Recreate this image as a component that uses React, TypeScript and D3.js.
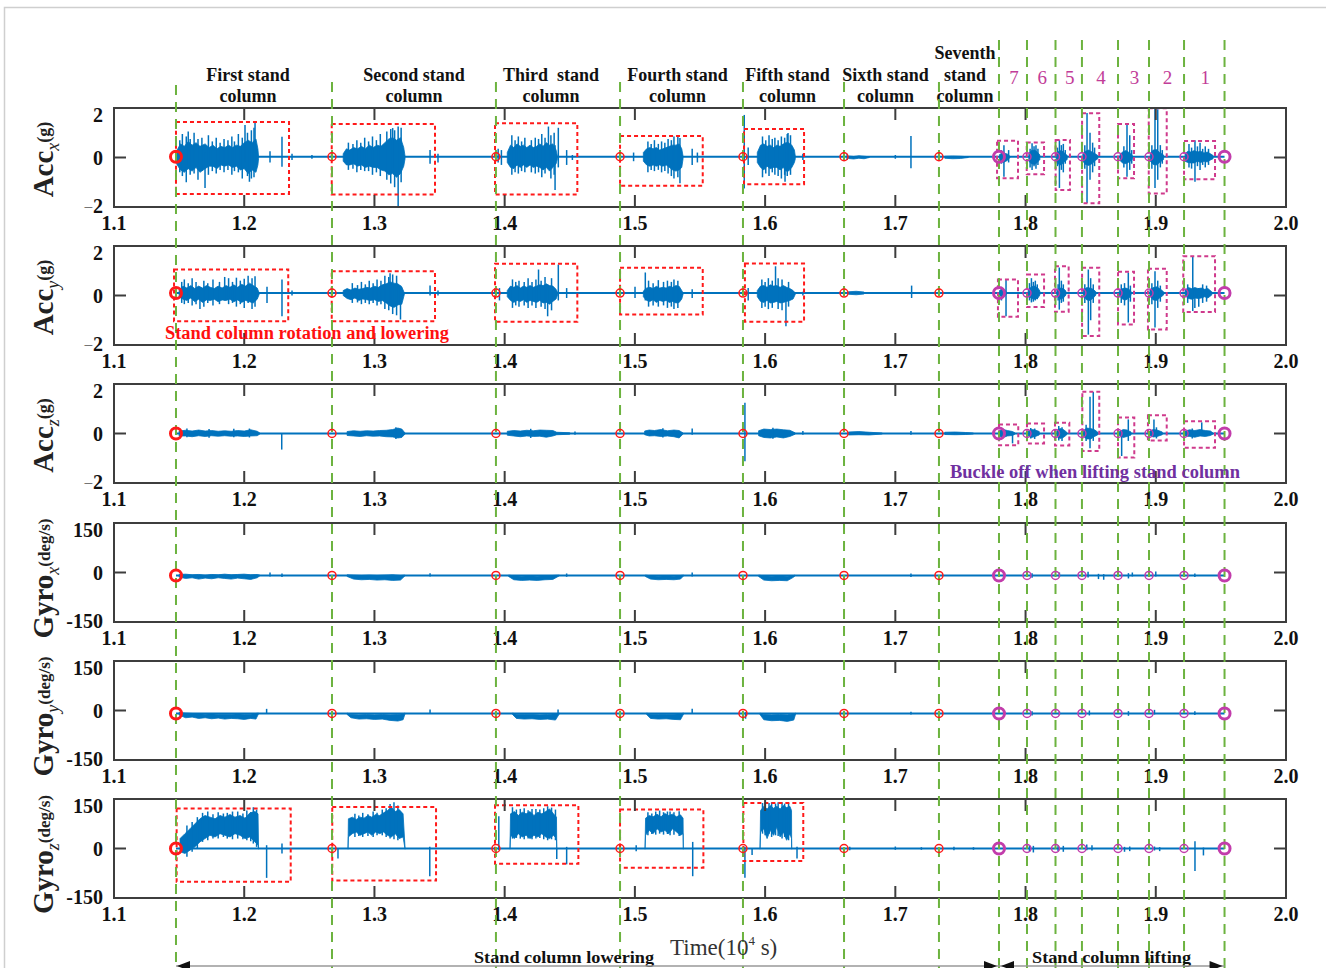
import React from "react";
import * as d3 from "d3";

// [time (1e4 s), high, low]
type Row = [number, number, number];
// [t0, t1, top, bottom]
type Box = [number, number, number, number];

const xTicks = [1.1, 1.2, 1.3, 1.4, 1.5, 1.6, 1.7, 1.8, 1.9, 2.0];
const accTicks = [-2, 0, 2];
const gyroTicks = [-150, 0, 150];

const lowerEvents = [1.1476, 1.2674, 1.3933, 1.4886, 1.583, 1.6606, 1.7335];
const liftEvents = [1.7796, 1.8011, 1.823, 1.8433, 1.871, 1.8948, 1.9217, 1.9528];

const standNames = [
  ["First stand", "column"],
  ["Second stand", "column"],
  ["Third  stand", "column"],
  ["Fourth stand", "column"],
  ["Fifth stand", "column"],
  ["Sixth stand", "column"],
  ["Seventh", "stand", "column"],
];
const liftNames = ["7", "6", "5", "4", "3", "2", "1"];

const baseLevels = [0.03, 0.1, 0, -9, -9, 0];

// ---------- Acc x ----------
const accXBursts: Row[][] = [
  [[1.148, 0.25, -0.25], [1.151, 0.55, -0.5], [1.154, 0.45, -0.6], [1.157, 0.65, -0.45], [1.16, 0.5, -0.55], [1.163, 0.6, -0.4], [1.166, 0.45, -0.6], [1.17, 0.55, -0.45], [1.173, 0.4, -0.35], [1.176, 0.5, -0.35], [1.179, 0.35, -0.45], [1.182, 0.45, -0.3], [1.185, 0.4, -0.35], [1.188, 0.5, -0.3], [1.191, 0.4, -0.4], [1.194, 0.5, -0.35], [1.197, 0.45, -0.5], [1.2, 0.6, -0.45], [1.203, 0.7, -0.65], [1.206, 0.6, -0.5], [1.209, 0.75, -0.6], [1.2105, 0.35, -0.3], [1.211, 0.05, -0.05]],
  [[1.276, 0.15, -0.15], [1.2785, 0.35, -0.3], [1.281, 0.3, -0.3], [1.284, 0.4, -0.25], [1.287, 0.35, -0.35], [1.29, 0.45, -0.3], [1.293, 0.35, -0.4], [1.296, 0.5, -0.35], [1.299, 0.4, -0.4], [1.302, 0.5, -0.4], [1.305, 0.45, -0.5], [1.308, 0.6, -0.55], [1.311, 0.75, -0.7], [1.314, 0.8, -0.65], [1.317, 0.7, -0.8], [1.32, 0.8, -0.65], [1.3225, 0.4, -0.35], [1.3235, 0.05, -0.05]],
  [[1.402, 0.2, -0.2], [1.4045, 0.5, -0.4], [1.407, 0.4, -0.45], [1.4095, 0.55, -0.3], [1.412, 0.45, -0.4], [1.4145, 0.5, -0.3], [1.417, 0.4, -0.4], [1.4195, 0.5, -0.3], [1.422, 0.4, -0.4], [1.4245, 0.45, -0.35], [1.427, 0.55, -0.4], [1.4295, 0.45, -0.5], [1.432, 0.6, -0.4], [1.4345, 0.5, -0.55], [1.437, 0.55, -0.4], [1.4395, 0.3, -0.25], [1.4405, 0.05, -0.05]],
  [[1.5065, 0.2, -0.15], [1.509, 0.35, -0.3], [1.5115, 0.4, -0.35], [1.514, 0.35, -0.3], [1.5165, 0.4, -0.35], [1.519, 0.3, -0.3], [1.5215, 0.35, -0.35], [1.524, 0.4, -0.3], [1.5265, 0.45, -0.4], [1.529, 0.5, -0.5], [1.5315, 0.5, -0.55], [1.534, 0.55, -0.5], [1.536, 0.35, -0.4], [1.537, 0.05, -0.05]],
  [[1.594, 0.2, -0.2], [1.5965, 0.5, -0.4], [1.599, 0.55, -0.5], [1.6015, 0.45, -0.35], [1.604, 0.5, -0.45], [1.6065, 0.4, -0.4], [1.609, 0.5, -0.4], [1.6115, 0.45, -0.5], [1.614, 0.55, -0.4], [1.616, 0.6, -0.55], [1.618, 0.6, -0.55], [1.6205, 0.5, -0.4], [1.6225, 0.3, -0.2], [1.6232, 0.05, -0.05]],
  [[1.664, 0.06, -0.04], [1.668, 0.04, -0.06], [1.672, 0.07, -0.03], [1.676, 0.05, -0.05], [1.68, 0.03, 0]],
  [[1.738, 0.05, -0.03], [1.744, 0.06, -0.05], [1.75, 0.05, -0.04], [1.756, 0.03, 0]],
  [[1.78, 0.12, -0.12], [1.783, 0.18, -0.2], [1.786, 0.14, -0.12], [1.788, 0.05, 0]],
  [[1.8025, 0.15, -0.15], [1.8045, 0.28, -0.25], [1.807, 0.3, -0.28], [1.809, 0.22, -0.2], [1.811, 0.1, -0.08]],
  [[1.8235, 0.15, -0.15], [1.8255, 0.25, -0.28], [1.8275, 0.28, -0.3], [1.8295, 0.2, -0.18], [1.832, 0.08, -0.08]],
  [[1.844, 0.15, -0.15], [1.846, 0.25, -0.28], [1.8485, 0.3, -0.32], [1.851, 0.22, -0.25], [1.8535, 0.15, -0.12], [1.8555, 0.08, -0.05]],
  [[1.8725, 0.12, -0.12], [1.8745, 0.22, -0.22], [1.877, 0.28, -0.25], [1.8795, 0.2, -0.18], [1.882, 0.08, -0.08]],
  [[1.8958, 0.15, -0.15], [1.898, 0.3, -0.28], [1.9005, 0.32, -0.3], [1.903, 0.2, -0.2], [1.906, 0.1, -0.08]],
  [[1.9225, 0.15, -0.15], [1.9245, 0.25, -0.2], [1.927, 0.22, -0.22], [1.9295, 0.28, -0.22], [1.932, 0.22, -0.15], [1.9345, 0.25, -0.2], [1.937, 0.18, -0.15], [1.9395, 0.22, -0.18], [1.942, 0.15, -0.1], [1.944, 0.08, -0.05]],
];
const accXSpikes: Row[] = [
  [1.157, 1.05, -0.3], [1.1699, 0.2, -1.23], [1.2006, 1.31, -0.2], [1.204, 0.3, -0.98], [1.2083, 1.39, -0.3], [1.2198, 0.25, -0.2], [1.229, 0.84, -0.37], [1.2367, 0.15, -0.1], [1.252, 0.1, -0.05],
  [1.1505, 0.7, -0.6], [1.1525, 0.95, -0.75], [1.1555, 0.85, -1.0], [1.1585, 0.75, -0.7], [1.1615, 1.0, -0.65], [1.1645, 0.75, -0.9], [1.1675, 0.8, -0.55], [1.1725, 0.9, -0.7], [1.1755, 0.65, -0.55], [1.1785, 0.8, -0.65], [1.1815, 0.6, -0.5], [1.1845, 0.75, -0.6], [1.1875, 0.7, -0.5], [1.1905, 0.85, -0.7], [1.1925, 0.65, -0.55], [1.1955, 0.95, -0.6], [1.1985, 0.8, -0.85], [1.2025, 1.0, -0.75], [1.2055, 1.1, -0.85], [1.2075, 1.2, -0.8],
  [1.314, 1.19, -0.4], [1.3182, 1.25, -2.0], [1.3427, 0.3, -0.25], [1.3488, 0.15, -0.2],
  [1.28, 0.6, -0.5], [1.2835, 0.55, -0.45], [1.2865, 0.7, -0.6], [1.2895, 0.6, -0.5], [1.2925, 0.8, -0.55], [1.2955, 0.65, -0.55], [1.2985, 0.85, -0.7], [1.3015, 0.7, -0.6], [1.3045, 0.95, -0.75], [1.3095, 1.05, -0.9], [1.3125, 1.15, -1.05], [1.3155, 1.1, -1.2], [1.3205, 1.2, -1.0],
  [1.395, 0.35, -0.2], [1.3975, 0.3, -0.3], [1.4336, 1.25, -0.3], [1.4387, 0.5, -1.31], [1.4412, 1.2, -0.4], [1.4476, 0.3, -0.3], [1.452, 0.1, -0.1],
  [1.4055, 0.9, -0.7], [1.408, 0.7, -0.6], [1.4105, 0.85, -0.65], [1.413, 0.65, -0.55], [1.4155, 0.8, -0.6], [1.4205, 0.7, -0.6], [1.4235, 0.8, -0.65], [1.426, 0.75, -0.6], [1.4285, 0.95, -0.8], [1.431, 0.8, -0.65], [1.4355, 0.9, -0.85], [1.438, 1.0, -0.7],
  [1.499, 0.2, -0.15], [1.5346, 0.79, -1.04], [1.544, 0.35, -0.3], [1.548, 0.2, -0.2],
  [1.51, 0.65, -0.6], [1.5125, 0.55, -0.5], [1.515, 0.7, -0.55], [1.518, 0.55, -0.5], [1.5205, 0.65, -0.6], [1.523, 0.6, -0.55], [1.5255, 0.75, -0.65], [1.528, 0.7, -0.75], [1.53, 0.85, -0.85], [1.533, 0.9, -0.8],
  [1.584, 1.72, -1.25], [1.587, 0.4, -0.3], [1.6176, 0.99, -0.3], [1.6153, 0.2, -0.98], [1.629, 0.15, -0.1],
  [1.598, 0.85, -0.8], [1.6005, 0.7, -0.65], [1.603, 0.9, -0.75], [1.6055, 0.75, -0.6], [1.6075, 0.8, -0.7], [1.61, 0.7, -0.75], [1.6125, 0.85, -0.85], [1.615, 0.8, -0.7], [1.617, 0.95, -0.75], [1.6195, 0.9, -0.7],
  [1.663, 0.15, -0.1], [1.7, 0.1, -0.05], [1.712, 0.87, -0.43],
  [1.7834, 0.5, -0.78], [1.7815, 0.3, -0.25], [1.787, 0.3, -0.2],
  [1.8035, 0.35, -0.4], [1.805, 0.58, -0.51], [1.8065, 0.45, -0.35], [1.808, 0.5, -0.45], [1.8095, 0.35, -0.3],
  [1.8245, 0.4, -0.35], [1.826, 0.7, -1.23], [1.8275, 0.5, -0.5], [1.829, 0.55, -0.6], [1.8305, 0.3, -0.25],
  [1.8455, 0.5, -0.45], [1.8472, 1.8, -1.84], [1.8495, 1.0, -0.9], [1.8515, 0.6, -0.6], [1.853, 0.4, -0.35],
  [1.8755, 0.45, -0.4], [1.8779, 1.31, -0.78], [1.88, 0.9, -0.5], [1.8815, 0.3, -0.25],
  [1.897, 0.5, -0.45], [1.8994, 2.0, -1.23], [1.9015, 1.95, -0.9], [1.9035, 0.5, -0.4], [1.905, 0.3, -0.25],
  [1.9255, 0.55, -0.4], [1.9275, 0.4, -0.45], [1.9301, 0.7, -0.98], [1.932, 0.45, -0.35], [1.934, 0.6, -0.5], [1.936, 0.35, -0.3], [1.938, 0.45, -0.4], [1.9405, 0.35, -0.3],
];
const accXRed: Box[] = [[1.1476, 1.2344, 1.43, -1.47], [1.2672, 1.3465, 1.35, -1.49], [1.3926, 1.4558, 1.38, -1.49], [1.4886, 1.5521, 0.87, -1.14], [1.5838, 1.6299, 1.15, -1.08]];
const accXPink: Box[] = [[1.7781, 1.7942, 0.68, -0.84], [1.8009, 1.8142, 0.61, -0.68], [1.8231, 1.8341, 0.71, -1.31], [1.8434, 1.8566, 1.79, -1.85], [1.871, 1.8833, 1.35, -0.84], [1.8946, 1.9084, 1.99, -1.45], [1.9217, 1.9455, 0.67, -0.88]];

// ---------- Acc y ----------
const accYBursts: Row[][] = [
  [[1.15, 0.2, -0.05], [1.153, 0.38, -0.15], [1.156, 0.3, -0.2], [1.159, 0.4, -0.1], [1.162, 0.28, -0.25], [1.165, 0.38, -0.15], [1.168, 0.3, -0.28], [1.171, 0.4, -0.18], [1.174, 0.33, -0.2], [1.177, 0.28, -0.15], [1.18, 0.38, -0.25], [1.183, 0.3, -0.18], [1.186, 0.4, -0.2], [1.189, 0.33, -0.15], [1.192, 0.43, -0.25], [1.195, 0.33, -0.18], [1.198, 0.45, -0.28], [1.201, 0.38, -0.2], [1.204, 0.5, -0.25], [1.207, 0.4, -0.3], [1.21, 0.3, -0.15], [1.2115, 0.1, 0.05]],
  [[1.276, 0.2, 0], [1.279, 0.28, -0.12], [1.282, 0.22, -0.17], [1.285, 0.3, -0.1], [1.288, 0.25, -0.2], [1.291, 0.28, -0.14], [1.294, 0.33, -0.17], [1.297, 0.3, -0.2], [1.3, 0.37, -0.17], [1.303, 0.33, -0.24], [1.306, 0.43, -0.2], [1.309, 0.47, -0.3], [1.312, 0.55, -0.42], [1.315, 0.5, -0.48], [1.318, 0.47, -0.38], [1.321, 0.35, -0.35], [1.323, 0.1, 0.05]],
  [[1.402, 0.2, -0.05], [1.4045, 0.38, -0.2], [1.407, 0.33, -0.28], [1.4095, 0.4, -0.2], [1.412, 0.3, -0.24], [1.4145, 0.38, -0.17], [1.417, 0.33, -0.28], [1.4195, 0.4, -0.2], [1.422, 0.33, -0.24], [1.4245, 0.38, -0.28], [1.427, 0.43, -0.2], [1.4295, 0.4, -0.3], [1.432, 0.47, -0.28], [1.4345, 0.4, -0.35], [1.437, 0.38, -0.24], [1.4395, 0.25, -0.14], [1.4408, 0.1, 0.05]],
  [[1.5065, 0.18, -0.05], [1.509, 0.3, -0.2], [1.5115, 0.33, -0.24], [1.514, 0.28, -0.17], [1.5165, 0.37, -0.28], [1.519, 0.3, -0.2], [1.5215, 0.33, -0.24], [1.524, 0.3, -0.2], [1.5265, 0.37, -0.28], [1.529, 0.33, -0.24], [1.5315, 0.4, -0.3], [1.534, 0.37, -0.28], [1.536, 0.2, -0.14], [1.537, 0.1, 0.05]],
  [[1.594, 0.2, -0.05], [1.5965, 0.38, -0.24], [1.599, 0.4, -0.28], [1.6015, 0.33, -0.2], [1.604, 0.43, -0.3], [1.6065, 0.38, -0.28], [1.609, 0.4, -0.24], [1.6115, 0.33, -0.3], [1.614, 0.4, -0.28], [1.6165, 0.33, -0.24], [1.619, 0.28, -0.2], [1.6215, 0.2, -0.14], [1.6232, 0.1, 0.05]],
  [[1.664, 0.15, 0.05], [1.67, 0.17, 0.03], [1.676, 0.14, 0.06]],
  [[1.78, 0.2, 0.0], [1.7825, 0.28, -0.08], [1.785, 0.18, 0.02]],
  [[1.802, 0.22, 0.0], [1.8045, 0.35, -0.12], [1.807, 0.38, -0.15], [1.8095, 0.3, -0.1], [1.811, 0.18, 0.02]],
  [[1.824, 0.22, 0.0], [1.8265, 0.3, -0.15], [1.829, 0.28, -0.1], [1.831, 0.18, 0.02]],
  [[1.8445, 0.22, 0.0], [1.847, 0.32, -0.18], [1.8495, 0.3, -0.2], [1.852, 0.25, -0.1], [1.854, 0.15, 0.02]],
  [[1.872, 0.2, 0.0], [1.8745, 0.28, -0.15], [1.877, 0.3, -0.18], [1.8795, 0.25, -0.1], [1.881, 0.15, 0.02]],
  [[1.8955, 0.22, 0.0], [1.898, 0.32, -0.18], [1.9005, 0.35, -0.2], [1.903, 0.28, -0.1], [1.906, 0.15, 0.02]],
  [[1.9225, 0.22, 0.0], [1.925, 0.32, -0.12], [1.9275, 0.28, -0.15], [1.93, 0.32, -0.1], [1.9325, 0.28, -0.12], [1.935, 0.3, -0.1], [1.9375, 0.25, -0.05], [1.94, 0.28, -0.1], [1.943, 0.15, 0.02]],
];
const accYSpikes: Row[] = [
  [1.166, 0.3, -0.55], [1.185, 0.75, -0.2], [1.203, 0.8, -0.3], [1.2083, 0.78, -0.45], [1.2175, 0.35, -0.3], [1.229, 0.65, -0.84], [1.2367, 0.2, 0.0],
  [1.152, 0.55, -0.3], [1.154, 0.65, -0.35], [1.157, 0.5, -0.3], [1.16, 0.7, -0.4], [1.163, 0.55, -0.35], [1.169, 0.6, -0.45], [1.172, 0.5, -0.3], [1.176, 0.65, -0.4], [1.181, 0.55, -0.35], [1.188, 0.7, -0.35], [1.191, 0.55, -0.3], [1.194, 0.72, -0.45], [1.197, 0.6, -0.35], [1.2, 0.68, -0.5], [1.206, 0.7, -0.55],
  [1.312, 0.9, -0.3], [1.32, 0.4, -0.97], [1.3427, 0.4, 0.0], [1.3488, 0.2, 0.0],
  [1.283, 0.5, -0.3], [1.287, 0.42, -0.28], [1.29, 0.55, -0.35], [1.293, 0.45, -0.3], [1.296, 0.6, -0.35], [1.299, 0.5, -0.3], [1.302, 0.65, -0.4], [1.305, 0.6, -0.35], [1.308, 0.8, -0.55], [1.311, 0.75, -0.6], [1.314, 0.85, -0.75], [1.317, 0.8, -0.8],
  [1.396, 0.3, -0.2], [1.426, 1.05, -0.2], [1.433, 0.4, -0.84], [1.4412, 1.25, -0.2], [1.4476, 0.3, -0.1],
  [1.406, 0.65, -0.5], [1.4085, 0.55, -0.4], [1.411, 0.6, -0.45], [1.415, 0.55, -0.4], [1.418, 0.7, -0.5], [1.421, 0.55, -0.4], [1.424, 0.65, -0.5], [1.428, 0.6, -0.45], [1.431, 0.75, -0.55], [1.436, 0.7, -0.6],
  [1.5001, 0.35, -0.1], [1.508, 0.93, -0.2], [1.544, 0.25, -0.1],
  [1.5105, 0.6, -0.45], [1.514, 0.5, -0.4], [1.518, 0.62, -0.45], [1.522, 0.55, -0.4], [1.525, 0.6, -0.5], [1.528, 0.55, -0.45], [1.53, 0.65, -0.55], [1.533, 0.6, -0.5],
  [1.587, 0.3, -0.2], [1.608, 1.18, -0.2], [1.616, 0.3, -1.24], [1.629, 0.15, 0.0],
  [1.5975, 0.65, -0.5], [1.6, 0.55, -0.45], [1.6025, 0.7, -0.55], [1.6055, 0.6, -0.5], [1.61, 0.7, -0.55], [1.613, 0.65, -0.6], [1.618, 0.55, -0.45],
  [1.7125, 0.4, -0.1],
  [1.7815, 0.35, -0.2], [1.785, 0.65, -0.84],
  [1.803, 0.5, -0.2], [1.8045, 0.7, -0.28], [1.806, 0.55, -0.25], [1.8075, 0.6, -0.2], [1.809, 0.45, -0.15],
  [1.825, 0.45, -0.2], [1.8259, 1.13, -0.57], [1.8275, 0.6, -0.3], [1.829, 0.45, -0.25],
  [1.8455, 0.45, -0.3], [1.8482, 1.05, -1.58], [1.85, 0.7, -1.0], [1.852, 0.45, -0.3],
  [1.8735, 0.45, -0.3], [1.876, 0.5, -0.4], [1.8789, 0.93, -1.09], [1.8805, 0.4, -0.25],
  [1.897, 0.5, -0.35], [1.8994, 0.98, -1.29], [1.9015, 0.6, -0.5], [1.9035, 0.4, -0.25],
  [1.9245, 0.45, -0.3], [1.9284, 1.59, -0.63], [1.93, 0.2, -0.5], [1.933, 0.3, -0.45], [1.936, 0.45, -0.3], [1.939, 0.4, -0.25],
];
const accYRed: Box[] = [[1.1461, 1.2338, 1.05, -1.04], [1.2672, 1.3465, 0.98, -1.04], [1.3926, 1.4558, 1.28, -1.06], [1.4886, 1.5521, 1.12, -0.77], [1.5845, 1.6299, 1.29, -1.06]];
const accYPink: Box[] = [[1.7788, 1.7942, 0.65, -0.86], [1.8011, 1.8142, 0.85, -0.46], [1.8226, 1.8331, 1.18, -0.66], [1.8434, 1.8566, 1.12, -1.64], [1.871, 1.8833, 0.96, -1.17], [1.894, 1.9084, 1.08, -1.37], [1.9211, 1.9455, 1.59, -0.67]];

// ---------- Acc z ----------
const accZBursts: Row[][] = [
  [[1.15, 0.1, -0.1], [1.155, 0.13, -0.1], [1.16, 0.1, -0.13], [1.165, 0.14, -0.09], [1.17, 0.1, -0.12], [1.175, 0.12, -0.09], [1.18, 0.09, -0.11], [1.185, 0.11, -0.09], [1.19, 0.09, -0.11], [1.195, 0.12, -0.1], [1.2, 0.1, -0.12], [1.205, 0.15, -0.1], [1.21, 0.09, -0.09], [1.212, 0.02, -0.02]],
  [[1.279, 0.08, -0.08], [1.284, 0.11, -0.1], [1.289, 0.09, -0.12], [1.294, 0.11, -0.09], [1.299, 0.1, -0.11], [1.304, 0.12, -0.1], [1.309, 0.13, -0.13], [1.314, 0.16, -0.14], [1.318, 0.22, -0.18], [1.321, 0.18, -0.16], [1.3235, 0.02, -0.02]],
  [[1.402, 0.09, -0.07], [1.407, 0.12, -0.1], [1.412, 0.1, -0.13], [1.417, 0.13, -0.1], [1.422, 0.11, -0.12], [1.427, 0.14, -0.11], [1.432, 0.13, -0.15], [1.437, 0.12, -0.1], [1.44, 0.05, -0.05], [1.45, 0.03, -0.03]],
  [[1.5075, 0.1, -0.05], [1.511, 0.14, -0.1], [1.515, 0.12, -0.09], [1.52, 0.16, -0.12], [1.525, 0.11, -0.1], [1.53, 0.14, -0.13], [1.534, 0.12, -0.18], [1.537, 0.02, -0.02]],
  [[1.595, 0.11, -0.09], [1.599, 0.18, -0.16], [1.604, 0.16, -0.18], [1.609, 0.18, -0.14], [1.614, 0.15, -0.18], [1.619, 0.13, -0.12], [1.623, 0.03, -0.03]],
  [[1.664, 0.06, -0.06], [1.672, 0.08, -0.05], [1.68, 0.05, -0.06], [1.69, 0.02, -0.02]],
  [[1.738, 0.05, -0.04], [1.746, 0.06, -0.05], [1.754, 0.04, -0.04], [1.76, 0.02, -0.02]],
  [[1.78, 0.12, -0.12], [1.783, 0.16, -0.16], [1.786, 0.12, -0.1], [1.79, 0.08, -0.08], [1.792, 0.02, -0.02]],
  [[1.802, 0.1, -0.1], [1.8045, 0.16, -0.16], [1.8075, 0.14, -0.12], [1.8105, 0.08, -0.06]],
  [[1.824, 0.12, -0.12], [1.8265, 0.2, -0.2], [1.829, 0.16, -0.16], [1.8315, 0.06, -0.06]],
  [[1.8445, 0.12, -0.12], [1.847, 0.22, -0.22], [1.85, 0.2, -0.22], [1.853, 0.15, -0.12], [1.8555, 0.05, -0.05]],
  [[1.872, 0.08, -0.08], [1.875, 0.16, -0.16], [1.878, 0.14, -0.12], [1.881, 0.06, -0.06]],
  [[1.8955, 0.1, -0.08], [1.898, 0.16, -0.14], [1.901, 0.14, -0.12], [1.905, 0.06, -0.05]],
  [[1.9225, 0.1, -0.1], [1.926, 0.15, -0.12], [1.93, 0.12, -0.15], [1.934, 0.16, -0.1], [1.938, 0.12, -0.12], [1.942, 0.1, -0.08], [1.944, 0.02, -0.02]],
];
const accZSpikes: Row[] = [
  [1.2288, 0.0, -0.65], [1.454, 0.08, -0.05], [1.544, 0.2, -0.05], [1.5845, 1.24, -1.12], [1.629, 0.1, -0.05], [1.712, 0.1, -0.05],
  [1.156, 0.2, -0.15], [1.173, 0.18, -0.17], [1.192, 0.19, -0.15], [1.204, 0.2, -0.16], [1.3165, 0.25, -0.22], [1.42, 0.19, -0.18], [1.5215, 0.21, -0.16], [1.606, 0.23, -0.21],
  [1.782, 0.22, -0.2], [1.79, 0.05, -0.4], [1.804, 0.22, -0.2], [1.807, 0.2, -0.22], [1.8255, 0.3, -0.28], [1.828, 0.25, -0.3],
  [1.8465, 0.35, -0.3], [1.8495, 1.48, -0.6], [1.852, 1.68, -0.3], [1.8738, 0.1, -0.91], [1.8789, 0.57, -0.3], [1.8986, 0.57, -0.1], [1.9005, 0.25, -0.2], [1.9353, 0.45, -0.1], [1.928, 0.2, -0.2],
];
const accZPink: Box[] = [[1.7796, 1.7944, 0.36, -0.47], [1.8011, 1.8142, 0.4, -0.4], [1.8226, 1.8336, 0.43, -0.48], [1.8436, 1.8566, 1.69, -0.71], [1.871, 1.8835, 0.65, -0.97], [1.894, 1.9084, 0.74, -0.28], [1.9217, 1.9455, 0.5, -0.58]];

// ---------- Gyro x ----------
const gyroXBursts: Row[][] = [
  [[1.15, -6, -14], [1.155, -5, -18], [1.16, -7, -16], [1.165, -6, -20], [1.17, -8, -17], [1.175, -6, -19], [1.18, -7, -16], [1.185, -5, -18], [1.19, -7, -20], [1.195, -6, -17], [1.2, -5, -19], [1.205, -7, -21], [1.21, -6, -16], [1.212, -8, -10]],
  [[1.279, -7, -12], [1.284, -8, -20], [1.29, -9, -22], [1.296, -8, -21], [1.302, -9, -23], [1.308, -8, -22], [1.314, -7, -24], [1.32, -9, -23], [1.3235, -8, -10]],
  [[1.403, -8, -12], [1.407, -10, -22], [1.413, -11, -24], [1.419, -10, -23], [1.425, -11, -24], [1.431, -10, -22], [1.437, -9, -21], [1.442, -8, -10]],
  [[1.508, -8, -12], [1.512, -10, -20], [1.518, -11, -22], [1.524, -10, -21], [1.53, -11, -22], [1.535, -9, -20], [1.5375, -8, -10]],
  [[1.595, -8, -12], [1.599, -10, -23], [1.605, -11, -25], [1.611, -10, -24], [1.617, -11, -25], [1.622, -9, -14], [1.623, -8, -10]],
];
const gyroXSpikes: Row[] = [
  [1.2198, 0, -12], [1.229, -3, -14], [1.3427, -2, -12], [1.4476, -3, -13], [1.544, 0, -12], [1.712, -3, -14],
  [1.805, -2, -16], [1.826, 0, -14], [1.848, 2, -15], [1.856, -4, -20], [1.86, -5, -22], [1.879, -2, -18], [1.882, 0, -12], [1.9, 3, -12], [1.93, -3, -14],
];

// ---------- Gyro y ----------
const gyroYBursts: Row[][] = [
  [[1.15, -6, -14], [1.155, -8, -22], [1.16, -9, -20], [1.165, -10, -24], [1.17, -11, -22], [1.175, -10, -25], [1.18, -12, -23], [1.185, -11, -26], [1.19, -12, -24], [1.195, -10, -25], [1.2, -12, -27], [1.205, -11, -24], [1.209, -9, -26], [1.211, -8, -10]],
  [[1.279, -8, -12], [1.282, -12, -22], [1.288, -13, -26], [1.294, -12, -25], [1.3, -13, -27], [1.306, -12, -26], [1.312, -13, -30], [1.318, -12, -32], [1.322, -10, -28], [1.3235, -8, -10]],
  [[1.406, -8, -12], [1.409, -11, -24], [1.415, -12, -26], [1.421, -12, -25], [1.427, -13, -27], [1.433, -12, -26], [1.439, -10, -29], [1.442, -8, -10]],
  [[1.509, -8, -12], [1.512, -11, -24], [1.518, -12, -26], [1.524, -12, -25], [1.53, -11, -27], [1.535, -10, -28], [1.5375, -8, -10]],
  [[1.596, -8, -12], [1.599, -12, -28], [1.605, -13, -31], [1.611, -12, -30], [1.617, -13, -33], [1.622, -10, -29], [1.6235, -8, -10]],
];
const gyroYSpikes: Row[] = [
  [1.2172, 5, -9], [1.3427, 3, -9], [1.441, 3, -10], [1.544, 5, -8], [1.585, -5, -25], [1.712, -4, -12],
  [1.805, -2, -15], [1.826, -3, -14], [1.849, 0, -15], [1.879, -2, -16], [1.899, 2, -12], [1.93, -2, -14],
];

// ---------- Gyro z ----------
const gyroZBursts: Row[][] = [
  [[1.1507, 30, -10], [1.1545, 45, -15], [1.1584, 60, -5], [1.1622, 75, 5], [1.166, 90, 20], [1.1699, 100, 30], [1.1737, 95, 40], [1.1776, 90, 35], [1.1814, 100, 45], [1.1852, 95, 40], [1.1891, 103, 35], [1.1929, 95, 45], [1.1968, 100, 40], [1.2006, 92, 30], [1.2044, 108, 35], [1.2083, 112, 20], [1.2106, 105, 10], [1.211, 2, -2]],
  [[1.2797, 2, -2], [1.28, 90, 35], [1.283, 95, 45], [1.286, 88, 50], [1.289, 95, 40], [1.292, 92, 45], [1.295, 100, 50], [1.298, 95, 40], [1.301, 103, 50], [1.304, 100, 45], [1.307, 108, 50], [1.31, 115, 40], [1.313, 125, 35], [1.316, 112, 45], [1.319, 118, 30], [1.322, 105, 35], [1.3235, 2, -2]],
  [[1.4041, 2, -2], [1.4045, 105, 40], [1.4075, 112, 30], [1.4105, 100, 45], [1.4135, 110, 35], [1.4165, 105, 40], [1.4195, 112, 30], [1.4225, 100, 40], [1.4255, 110, 35], [1.4285, 105, 45], [1.4315, 112, 35], [1.4345, 120, 30], [1.4375, 105, 40], [1.4398, 95, 30], [1.44, 2, -2]],
  [[1.5078, 2, -2], [1.5082, 92, 40], [1.511, 100, 55], [1.514, 96, 45], [1.517, 104, 60], [1.52, 96, 50], [1.523, 106, 55], [1.526, 100, 45], [1.529, 104, 60], [1.532, 96, 50], [1.535, 102, 40], [1.537, 92, 45], [1.5372, 2, -2]],
  [[1.5961, 2, -2], [1.5965, 115, 50], [1.599, 128, 60], [1.6015, 120, 30], [1.604, 130, 55], [1.6065, 122, 40], [1.609, 128, 65], [1.6115, 120, 35], [1.614, 130, 50], [1.6165, 124, 25], [1.619, 128, 45], [1.6203, 115, 30], [1.6204, 2, -2]],
];
const gyroZSpikes: Row[] = [
  [1.2172, 10, -89], [1.229, 15, -15], [1.272, 0, -30], [1.3425, 5, -84],
  [1.156, 70, -25], [1.16, 80, -10], [1.164, 95, 0], [1.168, 108, 20], [1.172, 112, 25], [1.176, 104, 30], [1.18, 110, 30], [1.184, 106, 35], [1.187, 108, 30], [1.191, 112, 28], [1.195, 112, 30], [1.199, 106, 28], [1.202, 115, 25], [1.205, 110, 22], [1.207, 125, 15], [1.2095, 118, 5],
  [1.285, 105, 35], [1.288, 100, 38], [1.291, 108, 35], [1.295, 104, 38], [1.299, 112, 35], [1.302, 108, 40], [1.306, 118, 40], [1.309, 122, 35], [1.312, 135, 30], [1.315, 140, 28], [1.318, 130, 25],
  [1.3955, 98, -5], [1.44, 0, -32], [1.4476, 5, -48],
  [1.406, 125, 30], [1.409, 118, 32], [1.412, 120, 30], [1.415, 122, 28], [1.418, 116, 30], [1.421, 120, 28], [1.424, 120, 30], [1.427, 118, 32], [1.43, 122, 28], [1.433, 128, 25], [1.436, 124, 28], [1.439, 118, 25],
  [1.501, 10, -8], [1.5444, 20, -84],
  [1.51, 110, 40], [1.513, 106, 44], [1.516, 112, 42], [1.519, 115, 45], [1.522, 110, 42], [1.525, 112, 44], [1.527, 112, 40], [1.53, 110, 42], [1.534, 113, 38],
  [1.5845, 5, -89], [1.59, 0, -20], [1.6245, 5, -30],
  [1.598, 138, 45], [1.6, 135, 40], [1.603, 138, 45], [1.605, 140, 35], [1.608, 136, 40], [1.61, 140, 38], [1.613, 140, 30], [1.615, 136, 35], [1.618, 138, 25],
  [1.665, 5, -5], [1.7, 6, -4], [1.72, 4, -4], [1.745, 5, -5], [1.76, 4, -4],
  [1.803, 10, -10], [1.806, 8, -12], [1.825, 10, -8], [1.829, 8, -10], [1.847, 12, -5], [1.851, 10, -6],
  [1.876, 5, -10], [1.88, 6, -8], [1.899, 6, -6], [1.903, 4, -8], [1.9301, 22, -68], [1.9366, 3, -21],
];
const gyroZRed: Box[] = [[1.1481, 1.2357, 121, -101], [1.2676, 1.3473, 126, -97], [1.3926, 1.4566, 131, -46], [1.4886, 1.5526, 118, -58], [1.5833, 1.6293, 138, -38]];

// ---------- layout ----------
const W = 1326;
const H = 968;
const plotLeft = 114;
const plotRight = 1286;
const panelTops = [108, 246, 384, 523, 661, 799];
const panelH = 99;
const serif = "'Liberation Serif', 'Times New Roman', serif";
const blue = "#0072BD";
const red = "#ff1a1a";
const pink = "#cf3a8c";
const green = "#6cb33f";
const frame = "#3d3d3d";
const titleNudge = [-6, 0, -7, -4, -6, -6, -4];

const panels = [
  { name: "Acc", sub: "x", unit: "(g)", lim: 2, ticks: accTicks, bursts: accXBursts, spikes: accXSpikes, red: accXRed, pink: accXPink },
  { name: "Acc", sub: "y", unit: "(g)", lim: 2, ticks: accTicks, bursts: accYBursts, spikes: accYSpikes, red: accYRed, pink: accYPink },
  { name: "Acc", sub: "z", unit: "(g)", lim: 2, ticks: accTicks, bursts: accZBursts, spikes: accZSpikes, red: [] as Box[], pink: accZPink },
  { name: "Gyro", sub: "x", unit: "(deg/s)", lim: 150, ticks: gyroTicks, bursts: gyroXBursts, spikes: gyroXSpikes, red: [] as Box[], pink: [] as Box[] },
  { name: "Gyro", sub: "y", unit: "(deg/s)", lim: 150, ticks: gyroTicks, bursts: gyroYBursts, spikes: gyroYSpikes, red: [] as Box[], pink: [] as Box[] },
  { name: "Gyro", sub: "z", unit: "(deg/s)", lim: 150, ticks: gyroTicks, bursts: gyroZBursts, spikes: gyroZSpikes, red: gyroZRed, pink: [] as Box[] },
];

const x = d3.scaleLinear().domain([1.1, 2.0]).range([plotLeft, plotRight]);
const allEvents = [...lowerEvents, ...liftEvents];

const Panel = ({ p, i }: { p: (typeof panels)[number]; i: number }) => {
  const top = panelTops[i];
  const bottom = top + panelH;
  const y = d3.scaleLinear().domain([-p.lim, p.lim]).range([bottom, top]).clamp(true);
  const base = baseLevels[i];
  const isAcc = p.name === "Acc";
  const area = d3
    .area<Row>()
    .x((d) => x(d[0]))
    .y0((d) => y(d[2]))
    .y1((d) => y(d[1]));
  const mid = y(0);
  return (
    <g>
      <rect x={plotLeft} y={top} width={plotRight - plotLeft} height={panelH} fill="#fff" />
      <line x1={x(allEvents[0])} x2={x(allEvents[allEvents.length - 1])} y1={y(base)} y2={y(base)} stroke={blue} strokeWidth={2} />
      {p.bursts.map((b, k) => (
        <path key={k} d={area(b) || ""} fill={blue} stroke={blue} strokeWidth={0.8} />
      ))}
      {p.spikes.map((s, k) => (
        <line key={k} x1={x(s[0])} x2={x(s[0])} y1={y(s[1])} y2={y(s[2])} stroke={blue} strokeWidth={1.5} />
      ))}
      {p.red.map((b, k) => (
        <rect key={k} x={x(b[0])} y={y(b[2])} width={x(b[1]) - x(b[0])} height={y(b[3]) - y(b[2])} fill="none" stroke={red} strokeWidth={2} strokeDasharray="4 3" />
      ))}
      {p.pink.map((b, k) => (
        <rect key={k} x={x(b[0])} y={y(b[2])} width={x(b[1]) - x(b[0])} height={y(b[3]) - y(b[2])} fill="none" stroke={pink} strokeWidth={2} strokeDasharray="4 3" />
      ))}
      <rect x={plotLeft} y={top} width={plotRight - plotLeft} height={panelH} fill="none" stroke={frame} strokeWidth={2} />
      {xTicks.slice(1, -1).map((t) => (
        <g key={t}>
          <line x1={x(t)} x2={x(t)} y1={top} y2={top + 12} stroke={frame} strokeWidth={2} />
          <line x1={x(t)} x2={x(t)} y1={bottom} y2={bottom - 12} stroke={frame} strokeWidth={2} />
        </g>
      ))}
      <line x1={plotLeft} x2={plotLeft + 12} y1={mid} y2={mid} stroke={frame} strokeWidth={2} />
      <line x1={plotRight} x2={plotRight - 12} y1={mid} y2={mid} stroke={frame} strokeWidth={2} />
      {xTicks.map((t) => (
        <text key={t} x={x(t)} y={bottom + 23} textAnchor="middle" fontFamily={serif} fontWeight="bold" fontSize={20} fill="#111">
          {d3.format(".1f")(t)}
        </text>
      ))}
      {p.ticks.map((v) => {
        const yy = v > 0 ? top + 7 : v < 0 ? bottom - 1 : mid;
        if (v < 0 && isAcc)
          return (
            <text key={v} x={103} y={yy} dy="0.35em" textAnchor="end" fontFamily={serif} fontWeight="bold" fontSize={20} fill="#111">
              <tspan fontWeight="normal" fill="#555" fontSize={17}>−</tspan>
              {Math.abs(v)}
            </text>
          );
        return (
          <text key={v} x={103} y={yy} dy="0.35em" textAnchor="end" fontFamily={serif} fontWeight="bold" fontSize={20} fill="#111">
            {v < 0 ? `-${Math.abs(v)}` : `${v}`}
          </text>
        );
      })}
      <text transform={`translate(53,${(top + bottom) / 2 + (isAcc ? 2 : 6)}) rotate(-90)`} textAnchor="middle" fontFamily={serif} fill="#222">
        <tspan fontWeight="bold" fontSize={29}>{p.name}</tspan>
        <tspan fontStyle="italic" fontSize={18} dy={6}>{p.sub}</tspan>
        <tspan fontWeight="bold" fontSize={isAcc ? 18 : 17} dy={-9}>{p.unit}</tspan>
      </text>
    </g>
  );
};

const App = () => {
  const ev = [...lowerEvents, liftEvents[0]];
  const liftY = 966;
  const arrow = (tipX: number, dir: number) =>
    `M${tipX},${liftY} L${tipX - dir * 13},${liftY - 5} L${tipX - dir * 13},${liftY + 5} Z`;
  return (
    <div style={{ position: "absolute", left: 0, top: 0 }}>
      <svg width={W} height={H} viewBox={`0 0 ${W} ${H}`} style={{ display: "block", background: "#fff" }}>
        <rect x={4.5} y={7.5} width={W + 20} height={H + 20} fill="none" stroke="#cfcfcf" strokeWidth={1.5} />
        {panels.map((p, i) => (
          <Panel key={i} p={p} i={i} />
        ))}

        {standNames.map((lines, i) => {
          const cx = (x(ev[i]) + x(ev[i + 1])) / 2 + titleNudge[i];
          const ys = lines.length === 3 ? [59, 81, 102] : [81, 102];
          return lines.map((s, k) => (
            <text key={`${i}-${k}`} x={cx} y={ys[k]} textAnchor="middle" fontFamily={serif} fontWeight="bold" fontSize={18} fill="#111" style={{ whiteSpace: "pre" }}>
              {s}
            </text>
          ));
        })}
        {liftNames.map((s, i) => (
          <text key={s} x={(x(liftEvents[i]) + x(liftEvents[i + 1])) / 2 + 1} y={84} textAnchor="middle" fontFamily={serif} fontSize={19} fill="#c23c98">
            {s}
          </text>
        ))}

        {allEvents.map((t, k) => (
          <line key={k} x1={x(t)} x2={x(t)} y1={k < lowerEvents.length ? (k === 0 ? 85 : 82) : 40} y2={H} stroke={green} strokeWidth={2} strokeDasharray="10 7" />
        ))}

        {panels.map((p, i) => {
          const y = d3.scaleLinear().domain([-p.lim, p.lim]).range([panelTops[i] + panelH, panelTops[i]]);
          const cy = y(baseLevels[i]);
          return allEvents.map((t, k) => {
            const isLift = k >= lowerEvents.length;
            const big = k === 0 || k === lowerEvents.length || k === allEvents.length - 1;
            return (
              <circle key={`${i}-${k}`} cx={x(t)} cy={cy} r={big ? 5.5 : 4} fill="none" stroke={isLift ? "#c23cab" : "#ff1a1a"} strokeWidth={big ? 3 : 1.5} />
            );
          });
        })}

        <text x={165} y={339} fontFamily={serif} fontWeight="bold" fontSize={18} fill="#ff1010" textLength={284} lengthAdjust="spacingAndGlyphs">
          Stand column rotation and lowering
        </text>
        <text x={950} y={478} fontFamily={serif} fontWeight="bold" fontSize={18} fill="#7030a0" textLength={290} lengthAdjust="spacingAndGlyphs">
          Buckle off when lifting stand column
        </text>
        <text x={474} y={963} fontFamily={serif} fontWeight="bold" fontSize={17} fill="#111" textLength={180} lengthAdjust="spacingAndGlyphs">
          Stand column lowering
        </text>
        <text x={1032} y={963} fontFamily={serif} fontWeight="bold" fontSize={17} fill="#111" textLength={159} lengthAdjust="spacingAndGlyphs">
          Stand column lifting
        </text>
        <text x={670} y={955} fontFamily={serif} fontSize={23} fill="#333">
          Time(10<tspan fontSize={13} dy={-10}>4</tspan>
          <tspan dy={10}> s)</tspan>
        </text>

        <line x1={x(lowerEvents[0])} x2={x(liftEvents[liftEvents.length - 1])} y1={liftY} y2={liftY} stroke="#999" strokeWidth={1.5} />
        <path d={arrow(x(lowerEvents[0]) + 1, -1)} fill="#111" />
        <path d={arrow(x(liftEvents[0]) - 2, 1)} fill="#111" />
        <path d={arrow(x(liftEvents[0]) + 2, -1)} fill="#111" />
        <path d={arrow(x(liftEvents[liftEvents.length - 1]) - 2, 1)} fill="#111" />
      </svg>
    </div>
  );
};

export default App;
